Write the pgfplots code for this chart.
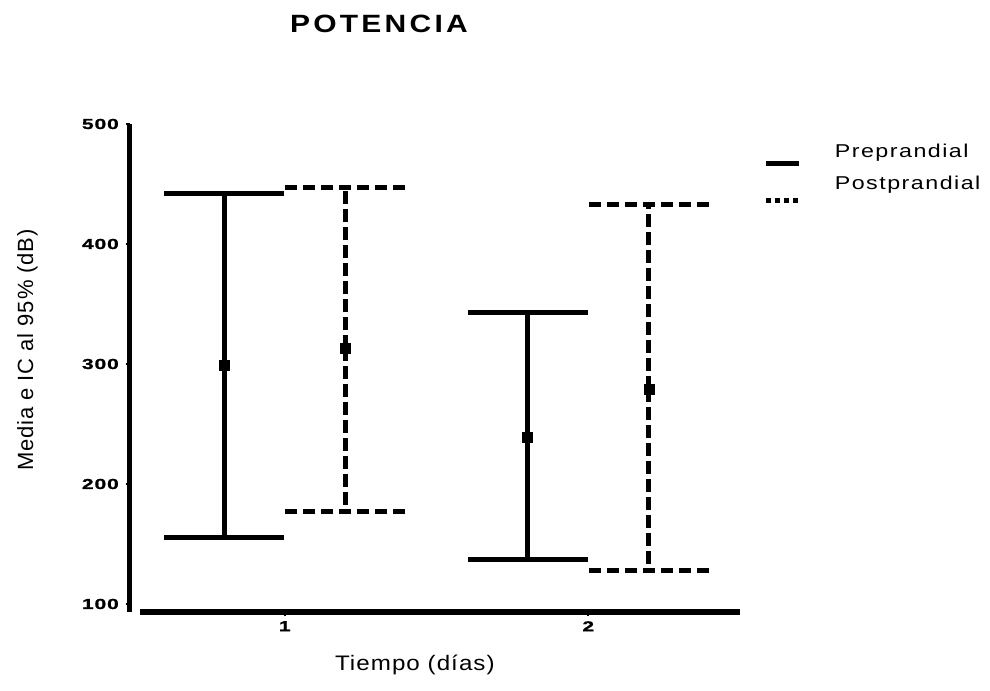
\documentclass[border=0pt]{standalone}
\usepackage{pgfplots}
\pgfplotsset{compat=1.18}
\usepackage{pgfplotstable}
\usepackage{fontspec}
\setmainfont{Liberation Sans}
\newfontfamily\titlefont[FakeStretch=1.2, LetterSpace=13]{Liberation Sans}
\newfontfamily\labelfont[FakeStretch=1.15, LetterSpace=5]{Liberation Sans}
\newfontfamily\ylabfont[LetterSpace=4]{Liberation Sans}
\newfontfamily\legfont[FakeStretch=1.25, LetterSpace=8]{Liberation Sans}
\newfontfamily\tickfont[FakeStretch=1.45, LetterSpace=6, FakeBold=1]{Liberation Sans Bold}

% mean and 95% CI limits (x = day +/- offset)
\pgfplotstableread{
x    y    lo   hi
0.8  299  155  442
1.8  239  137  343
}\pre
\pgfplotstableread{
x    y    lo   hi
1.2  313  177  447
2.2  279  128  432.5
}\post

\begin{document}
\begin{tikzpicture}
\begin{axis}[
  scale only axis, width=610bp, height=488bp,
  xmin=0.49, xmax=2.5, ymin=93.3, ymax=500,
  clip=false,
  axis x line*=bottom, axis y line*=left,
  x axis line style={-, line width=6bp, shorten <=10bp},
  y axis line style={-, line width=5bp},
  xtick={1,2}, ytick={100,200,300,400,500},
  tick align=outside, major tick length=4bp,
  tick style={line width=2bp, black},
  /pgf/number format/assume math mode=true,
  ticklabel style={font=\tickfont\fontsize{14.5bp}{14.5bp}\selectfont},
  yticklabel style={inner sep=0pt, xshift=-7bp},
  xticklabel style={inner sep=0pt, yshift=-5bp},
  xlabel={Tiempo (días)},
  xlabel style={at={(rel axis cs:0.467,-0.1189)}, anchor=base,
    font=\labelfont\fontsize{21bp}{21bp}\selectfont},
  ylabel={Media e IC al 95\% (dB)},
  ylabel style={at={(rel axis cs:-0.159,0.537)}, anchor=base,
    font=\ylabfont\fontsize{22bp}{22bp}\selectfont},
  legend style={draw=none, fill=none, inner sep=0pt, outer sep=0pt,
    at={(rel axis cs:1.039,0.959)}, anchor=north west,
    column sep=33bp, row sep=10bp,
    font=\legfont\fontsize{18.6bp}{18.6bp}\selectfont,
    nodes={inner sep=0pt}},
  legend cell align=left,
]

% Preprandial: solid bars
\addplot[forget plot, black, only marks, mark=square*, mark size=5bp,
  mark options={solid, fill=black},
  error bars/.cd, y dir=both, y explicit,
  error bar style={line width=5bp, solid},
  error mark options={rotate=90, mark size=60bp, line width=5bp, solid}]
  table[x=x, y=y,
    y error plus expr=\thisrow{hi}-\thisrow{y},
    y error minus expr=\thisrow{y}-\thisrow{lo}] {\pre};

% Postprandial: dashed bars
\addplot[forget plot, black, only marks, mark=square*, mark size=5bp,
  mark options={solid, fill=black},
  error bars/.cd, y dir=both, y explicit,
  error bar style={line width=5bp, dash pattern=on 13bp off 5bp},
  error mark options={rotate=90, mark size=60bp, line width=5bp,
    dash pattern=on 12bp off 6bp}]
  table[x=x, y=y,
    y error plus expr=\thisrow{hi}-\thisrow{y},
    y error minus expr=\thisrow{y}-\thisrow{lo}] {\post};

\addlegendimage{legend image code/.code={
  \draw[line width=5bp] (0bp,-12bp) -- (33bp,-12bp);}}
\addlegendentry{Preprandial}
\addlegendimage{legend image code/.code={
  \draw[line width=5bp, dash pattern=on 5bp off 4bp] (0bp,-17bp) -- (33bp,-17bp);}}
\addlegendentry{Postprandial}

\node[anchor=base, font=\titlefont\bfseries\fontsize{25bp}{25bp}\selectfont]
  at (rel axis cs:0.408,1.1865) {POTENCIA};

% page frame
\path (rel axis cs:-0.2131,-0.1598) rectangle (rel axis cs:1.4098,1.2541);
\end{axis}
\end{tikzpicture}
\end{document}
